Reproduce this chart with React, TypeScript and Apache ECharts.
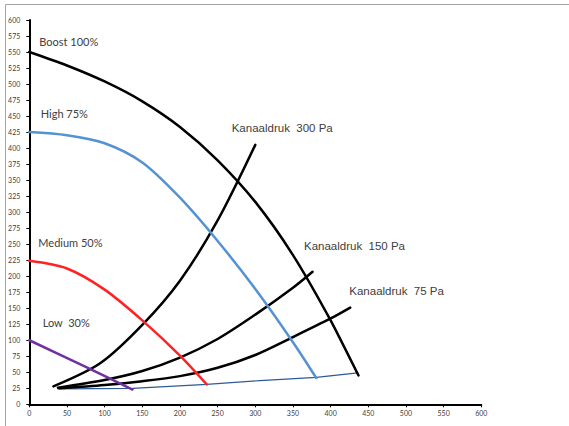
import React, { useEffect, useRef } from "react";
import * as echarts from "echarts";

// Fan curves: [airflow, pressure]
const boost100 = [[0, 550], [50, 529], [100, 504], [150, 473], [200, 433], [250, 381], [300, 316], [350, 233], [400, 131], [437, 45]];
const high75 = [[0, 425], [50, 420], [100, 407.5], [150, 377.5], [200, 322.5], [250, 255], [300, 180], [350, 97], [381, 41]];
const medium50 = [[0, 224], [50, 212], [100, 179], [150, 131], [200, 76], [235.5, 31]];
const low30 = [[0, 100], [70, 61], [137, 23]];

// Duct pressure curves
const kanaal300 = [[32, 28], [94, 64], [150, 124], [200, 193], [250, 287], [300, 405]];
const kanaal150 = [[38, 26], [100, 38], [150, 52], [200, 73], [250, 102], [300, 140], [350, 182], [376, 207]];
const kanaal75 = [[40, 25], [100, 30], [150, 36], [200, 44], [250, 57], [300, 77], [350, 105], [400, 134], [426, 151]];

// System line joining the curve ends
const systemLine = [[38, 24], [137, 25], [235.5, 31], [306, 37], [381, 42], [436, 49]];

const fanLabels = ["Boost 100%", "High 75%", "Medium 50%", "Low  30%"];
const ductLabels = ["Kanaaldruk  300 Pa", "Kanaaldruk  150 Pa", "Kanaaldruk  75 Pa"];

const X_MIN = 0, X_MAX = 600, X_STEP = 50;
const Y_MIN = 0, Y_MAX = 600, Y_STEP = 25;

export default function App() {
  const ref = useRef<HTMLDivElement>(null);
  useEffect(() => {
    if (!ref.current) return;
    const chart = echarts.init(ref.current, null, { renderer: "svg" });
    const line = (data: number[][], color: string, width: number, smooth: number | boolean, z = 2) => ({
      type: "line",
      data,
      smooth,
      symbol: "none",
      showSymbol: false,
      silent: true,
      z,
      lineStyle: { color, width, cap: "round" },
    });
    const fanFont = { fontFamily: "Lato", fontSize: 11, fill: "#404040" };
    const ductFont = { fontFamily: "Liberation Sans", fontSize: 11.5, fill: "#404040" };
    const fanPos = [[39.3, 41.7], [40.7, 113.3], [38.3, 242.3], [42.7, 322.7]];
    const ductPos = [[231.7, 128.3], [304, 246], [349.3, 291]];
    chart.setOption({
      animation: false,
      grid: { left: 29.3, top: 20, width: 452, height: 384.3, containLabel: false },
      xAxis: {
        type: "value",
        min: X_MIN,
        max: X_MAX,
        interval: X_STEP,
        splitLine: { show: false },
        axisLine: { show: true, onZero: false, lineStyle: { color: "#000", width: 2 } },
        axisTick: { show: true, inside: false, length: 3, lineStyle: { color: "#000", width: 1 } },
        axisLabel: { color: "#404040", fontFamily: "Lato", fontSize: 7, margin: 5 },
      },
      yAxis: {
        type: "value",
        min: Y_MIN,
        max: Y_MAX,
        interval: Y_STEP,
        splitLine: { show: false },
        axisLine: { show: true, onZero: false, lineStyle: { color: "#000", width: 2 } },
        axisTick: { show: true, inside: false, length: 3, lineStyle: { color: "#000", width: 1 } },
        axisLabel: { color: "#404040", fontFamily: "Lato", fontSize: 7, margin: 9 },
      },
      series: [
        line(systemLine, "#2e5a99", 1.2, false, 1),
        line(kanaal300, "#000000", 2.5, 0.3),
        line(kanaal150, "#000000", 2.5, 0.3),
        line(kanaal75, "#000000", 2.5, 0.3),
        line(low30, "#7030a0", 2.5, 0.3, 3),
        line(medium50, "#ff2222", 2.5, 0.3, 3),
        line(high75, "#5592d2", 2.5, 0.3, 3),
        line(boost100, "#000000", 2.5, 0.3, 3),
      ],
      graphic: [
        { type: "line", shape: { x1: 5.5, y1: 4.5, x2: 569, y2: 4.5 }, style: { stroke: "#a6a6a6", lineWidth: 1 } },
        { type: "line", shape: { x1: 5.5, y1: 4.5, x2: 5.5, y2: 426 }, style: { stroke: "#a6a6a6", lineWidth: 1 } },
        ...fanLabels.map((t, i) => ({
          type: "text",
          x: fanPos[i][0],
          y: fanPos[i][1],
          style: { text: t, ...fanFont, verticalAlign: "middle", align: "left" },
        })),
        ...ductLabels.map((t, i) => ({
          type: "text",
          x: ductPos[i][0],
          y: ductPos[i][1],
          style: { text: t, ...ductFont, verticalAlign: "middle", align: "left" },
        })),
      ],
    });
    return () => chart.dispose();
  }, []);
  return (
    <div
      ref={ref}
      style={{ position: "absolute", left: 0, top: 0, width: 569, height: 426, background: "#fff" }}
    />
  );
}
